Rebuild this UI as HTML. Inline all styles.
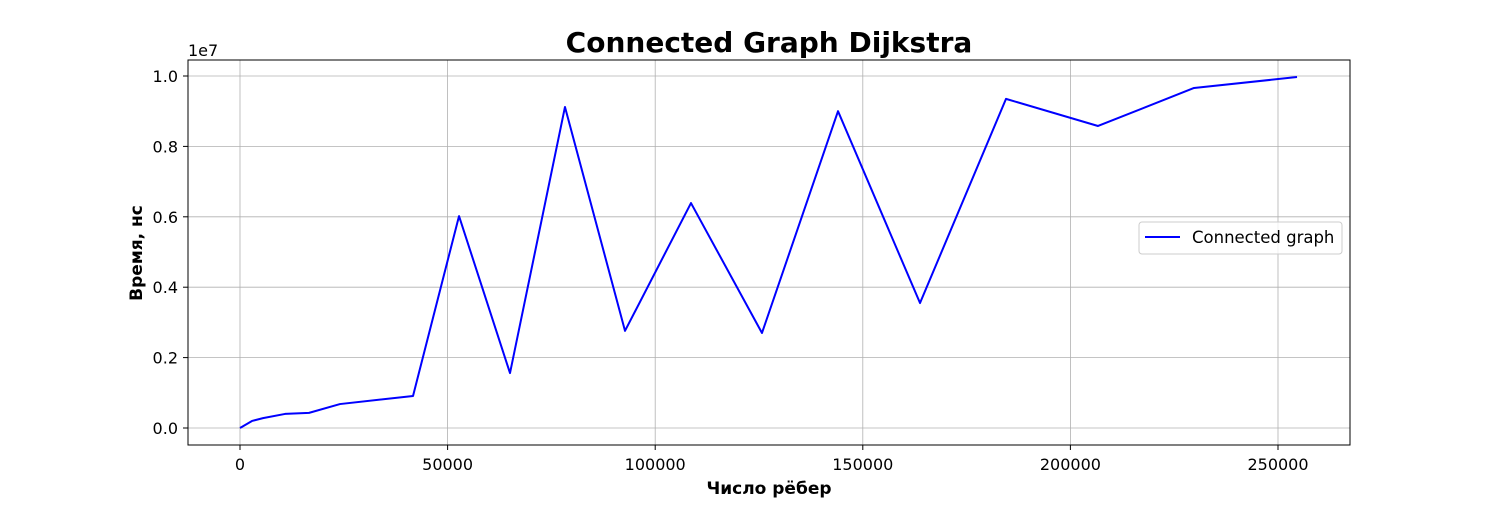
<!DOCTYPE html>
<html><head><meta charset="utf-8"><style>
body{margin:0;background:#fff;}
svg text{font-family:"DejaVu Sans","Liberation Sans",sans-serif;}
</style></head><body>
<svg id="c" width="1500" height="500"></svg>
<script>
const xs=[0,2890,5540,10840,16620,24080,41670,52750,65030,78270,92730,108620,125720,144030,163780,184490,206650,229770,254580];
const ys=[0,0.2,0.28,0.4,0.43,0.68,0.91,6.02,1.56,9.12,2.76,6.39,2.70,9.0,3.55,9.35,8.58,9.66,9.97];
const xTicks=[0,50000,100000,150000,200000,250000];
const yTicks=[0,0.2,0.4,0.6,0.8,1.0];
const L=188,R=1350,T=60,B=445;
const X=v=>240+v*(1038/250000);
const Y=v=>428-v*35.2;
const s=document.getElementById('c');
const NS='http://www.w3.org/2000/svg';
function el(t,a,txt){const e=document.createElementNS(NS,t);for(const k in a)e.setAttribute(k,a[k]);if(txt!==undefined)e.textContent=txt;s.appendChild(e);return e;}
xTicks.forEach(v=>{
 const g=el('line',{x1:X(v),x2:X(v),y1:T,y2:B,stroke:'#b0b0b0','stroke-width':0.8});
 
 
 el('line',{x1:X(v),x2:X(v),y1:B,y2:B+5,stroke:'#000'});
 const t=el('text',{x:X(v),y:B+25,'text-anchor':'middle','font-size':16},String(v));
 
 
});
yTicks.forEach(v=>{
 const g=el('line',{x1:L,x2:R,y1:Y(v*10),y2:Y(v*10),stroke:'#b0b0b0','stroke-width':0.8});
 
 
 el('line',{x1:L-5,x2:L,y1:Y(v*10),y2:Y(v*10),stroke:'#000'});
 const t=el('text',{x:L-10,y:Y(v*10)+6,'text-anchor':'end','font-size':16},v.toFixed(1));
 
 
});
const fr=el('rect',{x:L,y:T,width:R-L,height:B-T,fill:'none',stroke:'#000','stroke-width':1});


const p=el('polyline',{points:xs.map((x,i)=>X(x)+','+Y(ys[i])).join(' '),fill:'none',stroke:'#0000ff','stroke-width':2,'stroke-linejoin':'round'});


const ti=el('text',{x:769,y:52,'text-anchor':'middle','font-size':28,'font-weight':'bold'},'Connected Graph Dijkstra');


const ex=el('text',{x:188,y:56,'font-size':16},'1e7');


const xl=el('text',{x:769,y:494,'text-anchor':'middle','font-size':17,'font-weight':'bold'},'Число рёбер');


const yl=el('text',{x:0,y:0,transform:'translate(142,253) rotate(-90)','text-anchor':'middle','font-size':17,'font-weight':'bold'},'Время, нс');


const lb=el('rect',{x:1139,y:222,width:203,height:32,rx:3,fill:'#fff','fill-opacity':0.8,stroke:'#ccc'});


el('line',{x1:1145,x2:1180,y1:237,y2:237,stroke:'#0000ff','stroke-width':2});
const lt=el('text',{x:1192,y:243,'font-size':16.5},'Connected graph');


</script>
</body></html>
